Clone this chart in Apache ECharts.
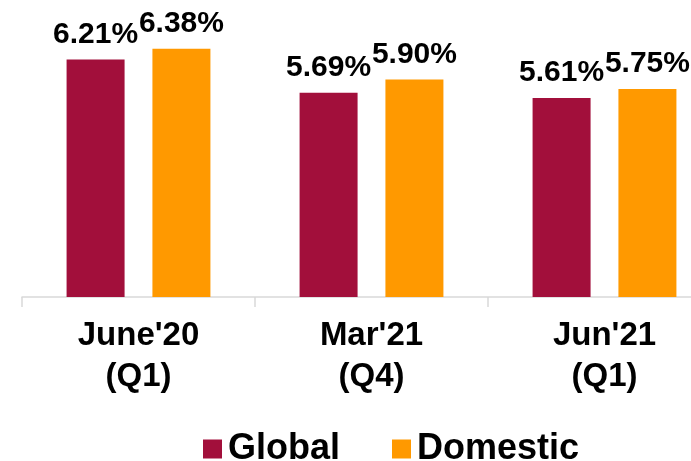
<!DOCTYPE html>
<html>
<head>
<meta charset="utf-8">
<script src="https://cdn.jsdelivr.net/npm/echarts@6/dist/echarts.min.js"></script>
<style>
  html, body { margin: 0; padding: 0; background: #fff; overflow: hidden; width: 691px; height: 461px; }
  /* canvas is wider than the window: the axis runs past the right edge */
  #chart { width: 730px; height: 461px; }
</style>
</head>
<body>
<div id="chart"></div>
<script>
const categories = ["June'20\n(Q1)", "Mar'21\n(Q4)", "Jun'21\n(Q1)"];
const globalValues = [6.21, 5.69, 5.61];
const domesticValues = [6.38, 5.90, 5.75];

const font = "'Liberation Sans', Arial, sans-serif";

const chart = echarts.init(document.getElementById('chart'));

const barLabel = {
  show: true,
  position: 'top',
  distance: 10,
  formatter: p => p.value.toFixed(2) + '%',
  fontFamily: font,
  fontWeight: 'bold',
  fontSize: 30,
  color: '#000',
};

chart.setOption({
  animation: false,
  grid: { left: 22, right: 9, top: 9, bottom: 164 },
  legend: {
    left: 198,
    top: 426,
    itemWidth: 19,
    itemHeight: 19,
    itemGap: 52,
    icon: 'rect',
    textStyle: { fontFamily: font, fontWeight: 'bold', fontSize: 36, color: '#000', padding: [0, 0, 0, 1] },
    data: ['Global', 'Domestic'],
  },
  xAxis: {
    type: 'category',
    data: categories,
    axisLine: { lineStyle: { color: '#d9d9d9', width: 1.5 } },
    axisTick: { show: true, length: 10, lineStyle: { color: '#d9d9d9', width: 1.5 } },
    axisLabel: {
      margin: 18,
      fontFamily: font,
      fontWeight: 'bold',
      fontSize: 33,
      lineHeight: 41,
      color: '#000',
    },
  },
  yAxis: {
    type: 'value',
    min: 2.5,
    max: 7,
    show: false,
  },
  series: [
    {
      name: 'Global',
      type: 'bar',
      data: globalValues,
      barWidth: 58,
      barGap: '48%',
      itemStyle: { color: '#A20F3B' },
      label: barLabel,
    },
    {
      name: 'Domestic',
      type: 'bar',
      data: domesticValues,
      barWidth: 58,
      itemStyle: { color: '#FF9900' },
      label: barLabel,
    },
  ],
});
</script>
</body>
</html>
